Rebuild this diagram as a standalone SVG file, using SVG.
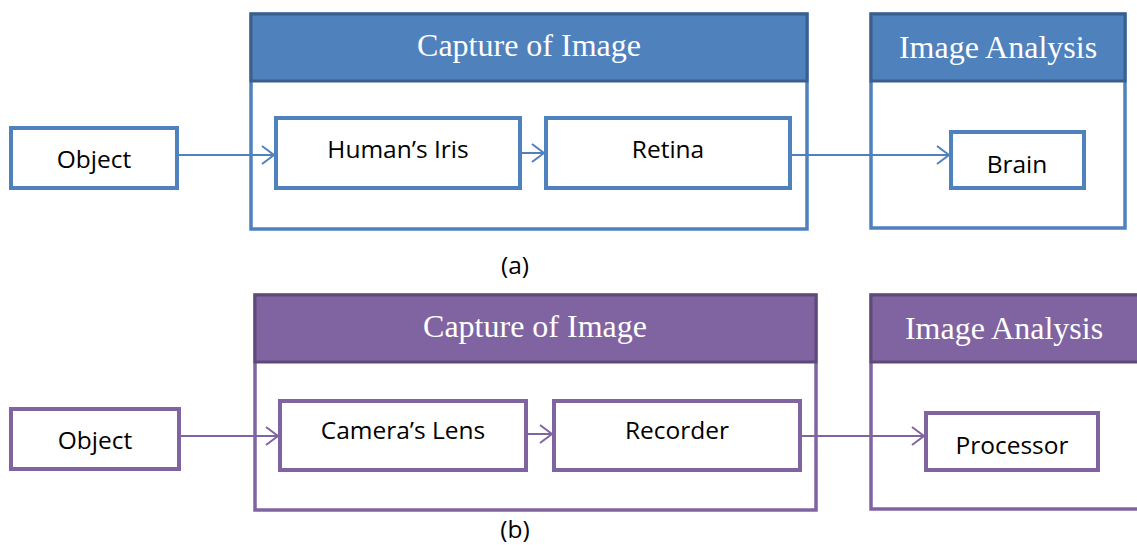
<svg xmlns="http://www.w3.org/2000/svg" width="1137" height="545" viewBox="0 0 1137 545">
<style>
.hdrA{fill:#4F81BD;stroke:#3B5F8C;stroke-width:3}
.hdrB{fill:#8064A2;stroke:#5E4A7A;stroke-width:3}
.frA{fill:#fff;stroke:#4F81BD;stroke-width:3.5}
.frB{fill:#fff;stroke:#8064A2;stroke-width:3.5}
.bxA{fill:#fff;stroke:#4F81BD;stroke-width:4}
.bxB{fill:#fff;stroke:#8064A2;stroke-width:4}
.ht{font-family:"Liberation Serif","Times New Roman",serif;font-size:32px;fill:#fff;text-anchor:middle}
.t{font-family:"Open Sans","Liberation Sans",sans-serif;font-size:24.5px;fill:#000;text-anchor:middle}
.cA{stroke:#4F81BD;stroke-width:2;fill:none}
.cB{stroke:#8064A2;stroke-width:2;fill:none}
</style>
<defs>
<marker id="mA" markerWidth="16" markerHeight="22" refX="14" refY="11" orient="auto" markerUnits="userSpaceOnUse"><path d="M2,2 L14,11 L2,20" fill="none" stroke="#4F81BD" stroke-width="2"/></marker>
<marker id="mB" markerWidth="16" markerHeight="22" refX="14" refY="11" orient="auto" markerUnits="userSpaceOnUse"><path d="M2,2 L14,11 L2,20" fill="none" stroke="#8064A2" stroke-width="2"/></marker>
</defs>
<rect width="1137" height="545" fill="#fff"/>

<g id="captureA">
<rect class="frA" x="251" y="14" width="556" height="215"/>
<rect class="hdrA" x="251" y="14" width="556" height="67"/>
<text class="ht" x="529" y="56">Capture of Image</text>
</g>
<g id="analysisA">
<rect class="frA" x="871" y="14" width="254" height="214"/>
<rect class="hdrA" x="871" y="14" width="254" height="67"/>
<text class="ht" x="998" y="58">Image Analysis</text>
</g>
<g id="objectA">
<rect class="bxA" x="11" y="128" width="166" height="60"/>
<text class="t" x="94" y="168">Object</text>
</g>
<g id="irisA">
<rect class="bxA" x="276" y="118" width="244" height="70"/>
<text class="t" x="398" y="158">Human’s Iris</text>
</g>
<g id="retinaA">
<rect class="bxA" x="546" y="118" width="244" height="70"/>
<text class="t" x="668" y="158">Retina</text>
</g>
<g id="brainA">
<rect class="bxA" x="951" y="132" width="133" height="56"/>
<text class="t" x="1017" y="173">Brain</text>
</g>
<text class="t" x="515" y="274">(a)</text>

<g id="captureB">
<rect class="frB" x="255" y="295" width="561" height="215"/>
<rect class="hdrB" x="255" y="295" width="561" height="67"/>
<text class="ht" x="535" y="337">Capture of Image</text>
</g>
<g id="analysisB">
<rect class="frB" x="871" y="295" width="270" height="214"/>
<rect class="hdrB" x="871" y="295" width="270" height="67"/>
<text class="ht" x="1004" y="339">Image Analysis</text>
</g>
<g id="objectB">
<rect class="bxB" x="11" y="409" width="168" height="60"/>
<text class="t" x="95" y="449">Object</text>
</g>
<g id="lensB">
<rect class="bxB" x="280" y="401" width="246" height="69"/>
<text class="t" x="403" y="439">Camera’s Lens</text>
</g>
<g id="recorderB">
<rect class="bxB" x="554" y="401" width="246" height="69"/>
<text class="t" x="677" y="439">Recorder</text>
</g>
<g id="processorB">
<rect class="bxB" x="926" y="413" width="172" height="57"/>
<text class="t" x="1012" y="454">Processor</text>
</g>
<text class="t" x="515" y="538">(b)</text>

<g id="connectors">
<line class="cA" x1="177" y1="155" x2="274" y2="155" marker-end="url(#mA)"/>
<line class="cA" x1="520" y1="153" x2="544" y2="153" marker-end="url(#mA)"/>
<line class="cA" x1="790" y1="155" x2="949" y2="155" marker-end="url(#mA)"/>
<line class="cB" x1="179" y1="436" x2="278" y2="436" marker-end="url(#mB)"/>
<line class="cB" x1="526" y1="434" x2="552" y2="434" marker-end="url(#mB)"/>
<line class="cB" x1="800" y1="436" x2="924" y2="436" marker-end="url(#mB)"/>
</g>
</svg>
